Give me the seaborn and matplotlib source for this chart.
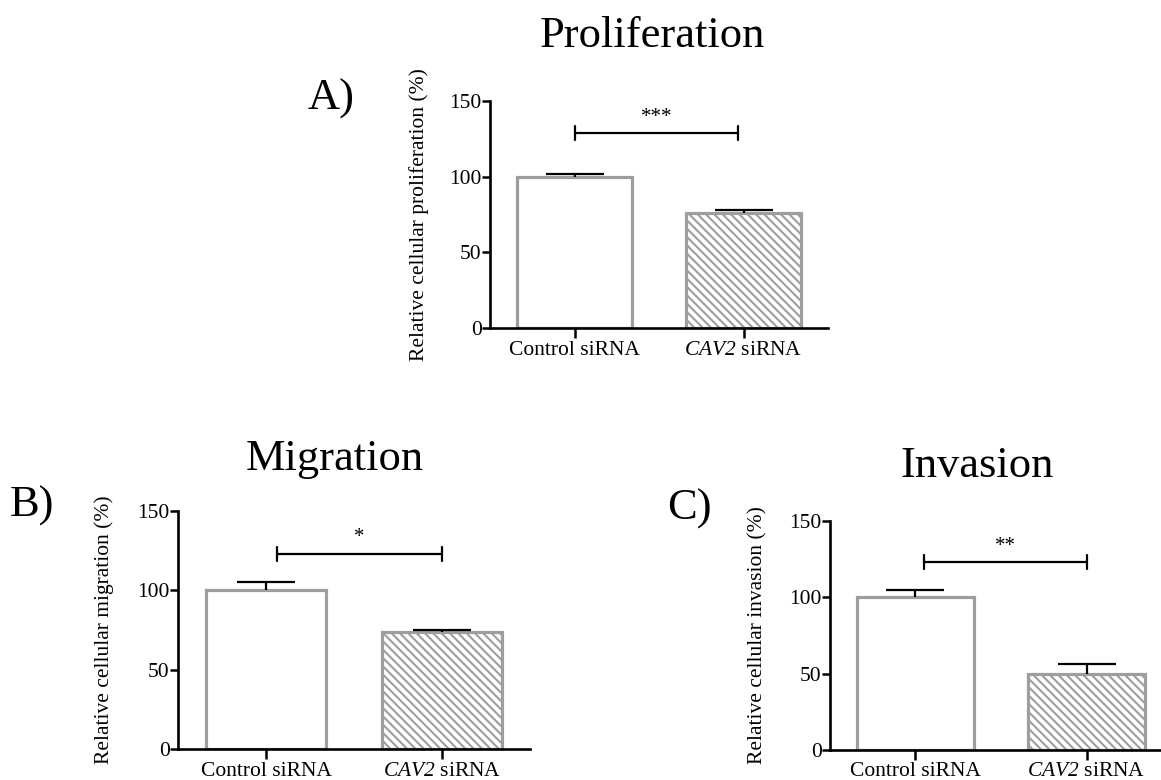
import numpy as np
import pandas as pd
import matplotlib
matplotlib.use("Agg")
import matplotlib.pyplot as plt
import seaborn as sns

# datos / data
groups = ["Control siRNA", "CAV2 siRNA"]
tick_labels = ["Control siRNA", r"$\mathrm{CAV2}$ siRNA"]

prolif_mean = [100, 76]
prolif_err = [1.5, 1.8]
migr_mean = [100, 74]
migr_err = [5.5, 1.2]
inv_mean = [100, 50]
inv_err = [4.5, 6.5]

# significancia: altura, extremos, texto
sig_y = [129, 123, 123]
sig_ends = [(0.0, 0.97), (0.06, 1.0), (0.05, 1.0)]
sig_text = ["***", "*", "**"]

titles = ["Proliferation", "Migration", "Invasion"]
ylabels = ["Relative cellular proliferation (%)",
           "Relative cellular migration (%)",
           "Relative cellular invasion (%)"]
panel_tags = ["A)", "B)", "C)"]
yticks = [0, 50, 100, 150]

sns.set_style("white")
plt.rcParams["font.family"] = ["Liberation Serif", "DejaVu Serif"]
# solo CAV2 usa mathtext, asi que todo en cursiva (incluido el 2)
plt.rcParams["mathtext.fontset"] = "custom"
plt.rcParams["mathtext.rm"] = "Liberation Serif:italic"
plt.rcParams["mathtext.it"] = "Liberation Serif:italic"
plt.rcParams["hatch.color"] = "#a0a0a0"
plt.rcParams["hatch.linewidth"] = 1.5
for k in ["text.color", "axes.labelcolor", "xtick.color", "ytick.color"]:
    plt.rcParams[k] = "black"

edge = "#9e9e9e"

fig = plt.figure(figsize=(11.61, 7.8), dpi=100)
W, H = 1161, 780

# posiciones de los ejes en pixeles (izq, der, abajo, arriba)
boxes = [(490, 828, 328, 101), (178, 530, 749, 511), (830, 1172, 750, 521)]
title_pos = [(652, 47), (335, 470), (977, 477)]
tag_pos = [(308, 110), (10, 517), (667, 520)]

data_sets = [(prolif_mean, prolif_err), (migr_mean, migr_err), (inv_mean, inv_err)]

for i, (means, errs) in enumerate(data_sets):
    l, r, b, t = boxes[i]
    ax = fig.add_axes([l / W, 1 - b / H, (r - l) / W, (b - t) / H])
    df = pd.DataFrame({"group": groups, "value": means})
    sns.barplot(data=df, x="group", y="value", ax=ax, width=0.68,
                color="white", edgecolor=edge, linewidth=2.3, errorbar=None,
                saturation=1)
    ax.patches[1].set_hatch("\\\\\\\\")
    for p in ax.patches:
        p.set_facecolor("white")
        p.set_edgecolor(edge)

    # error solo hacia arriba, sin tapa inferior
    eb = ax.errorbar(x=[0, 1], y=means, yerr=[np.zeros(2), errs], fmt="none",
                     ecolor="black", elinewidth=1.6, capsize=21, capthick=1.6,
                     zorder=5)
    eb[1][0].set_visible(False)

    # barra de significancia
    x0, x1 = sig_ends[i]
    ax.plot([x0, x1], [sig_y[i], sig_y[i]], color="black", lw=1.6)
    for xe in (x0, x1):
        ax.plot([xe, xe], [sig_y[i] - 4.5, sig_y[i] + 4.5], color="black", lw=1.6)
    ax.text((x0 + x1) / 2, sig_y[i] + 4, sig_text[i], ha="center",
            va="bottom", fontsize=15)

    ax.set_xlim(-0.5, 1.5)
    ax.set_ylim(0, 150)
    ax.set_yticks(yticks)
    ax.set_xticks([0, 1])
    ax.set_xticklabels(tick_labels)
    ax.set_xlabel("")
    ax.set_ylabel(ylabels[i], fontsize=15.5)
    ax.yaxis.label.set_va("center")
    ax.yaxis.set_label_coords(-0.21, 0.5)
    sns.despine(ax=ax)
    for s in ["left", "bottom"]:
        ax.spines[s].set_linewidth(1.9)
        ax.spines[s].set_color("black")
    ax.tick_params(axis="y", direction="out", length=5.5, width=1.8,
                   pad=0.5, labelsize=15.5, left=True)
    ax.tick_params(axis="x", direction="out", length=7, width=1.8,
                   pad=2, labelsize=15.5, bottom=True)
    ax.set_facecolor("white")

    fig.text(title_pos[i][0] / W, 1 - title_pos[i][1] / H, titles[i],
             ha="center", va="baseline", fontsize=32)
    fig.text(tag_pos[i][0] / W, 1 - tag_pos[i][1] / H, panel_tags[i],
             ha="left", va="baseline", fontsize=32)

fig.savefig("out.png", dpi=100, facecolor="white")
